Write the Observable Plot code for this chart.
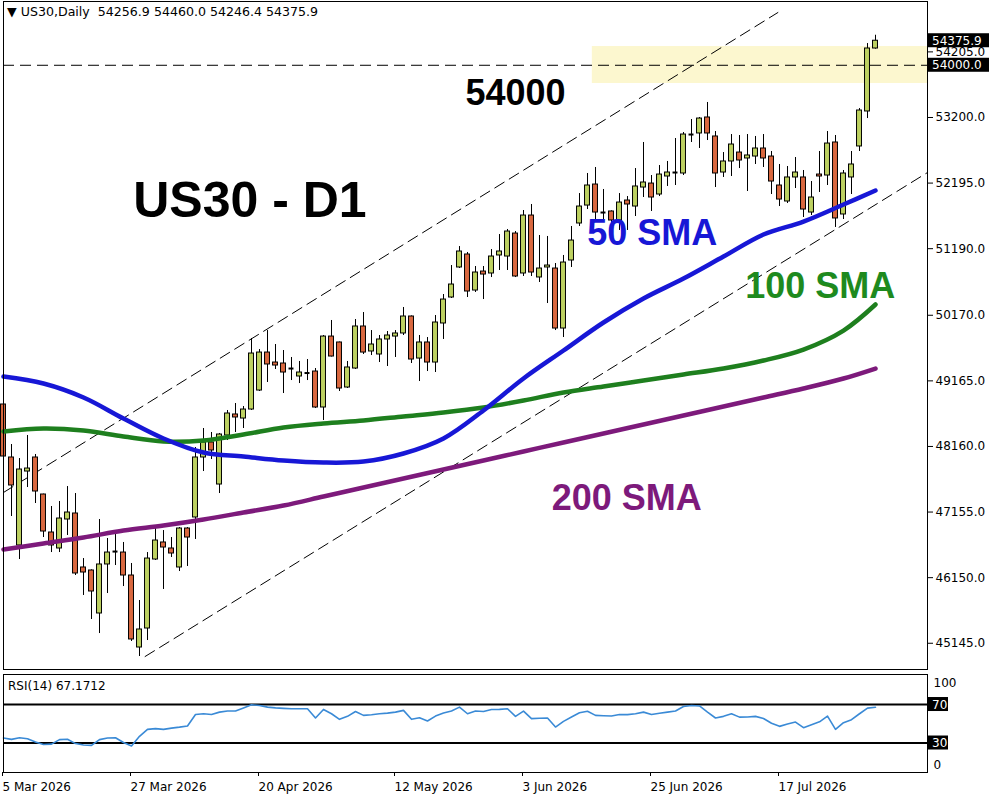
<!DOCTYPE html>
<html><head><meta charset="utf-8">
<script src="https://cdn.jsdelivr.net/npm/d3@7"></script>
<script src="https://cdn.jsdelivr.net/npm/@observablehq/plot@0.6"></script>
<style>
body{margin:0;background:#fff;}
#wrap{position:relative;width:1000px;height:800px;overflow:hidden;background:#fff;font-family:"DejaVu Sans",sans-serif;}
#main{position:absolute;left:0;top:0;}
#rsi{position:absolute;left:0;top:672px;}
.lbl{position:absolute;font-family:"DejaVu Sans",sans-serif;font-size:12px;color:#000;white-space:pre;}
</style></head><body>
<div id="wrap">
<div id="main"></div>
<div id="rsi"></div>
<div class="lbl" id="hdr" style="left:7px;top:4px;font-size:12.6px;"></div>
<div class="lbl" id="rsiLbl" style="left:8px;top:679px;"></div>
</div>
<script>
// ---- data ----
const symbol = "US30,Daily";
const lastOHLC = ["54256.9", "54460.0", "54246.4", "54375.9"];
const opens = [48803,47991,46643,47776,47991,47424,46842,46597,47041,47133,46306,46260,45601,46352,46550,46535,46183,45080,45371,46428,46689,46597,46306,46903,47072,47991,48221,47577,48328,48650,48588,48726,49017,49599,49446,49431,49354,49232,49285,49308,48757,49844,49753,49063,49354,49998,49615,49569,49799,49844,49891,50151,49507,49753,49446,50044,50442,50902,51101,50549,50840,50810,51086,51070,51422,50810,51698,50749,50902,50886,49967,51009,51576,51851,52173,51744,51760,51622,51928,51836,52127,52188,52020,52296,52357,52342,52939,52955,53200,52909,52357,52526,52663,52572,52602,52725,52602,52158,51913,52281,52281,51744,52326,52311,52817,51714,52281,52756,53292,54256.9];
const highs = [48910,48190,47975,48328,48037,47430,47240,47317,47546,47439,46443,46270,47041,46750,46811,46689,46367,45800,46535,46918,46872,46765,46918,46918,48144,48435,48374,48359,48711,48818,48772,49814,49645,49936,49722,49630,49523,49462,49492,49354,49860,50090,49760,49462,50105,50212,49936,49860,49921,49936,50289,50160,49860,49829,50166,50488,50932,51223,51132,50917,50917,51177,51407,51484,51453,51775,51867,51392,51377,50963,51086,51530,52035,52342,52434,52097,51770,52035,51989,52418,52817,52311,52464,52526,52878,52970,53169,53200,53430,52985,52663,52939,52924,52939,52909,52939,52679,52480,52449,52587,52388,52219,52679,52985,52924,52388,52679,53337,54333,54460.0];
const lows = [47684,47087,46428,47531,47286,46765,46535,46535,46796,46183,45877,45509,45294,45907,46336,46014,45172,44942,45187,46413,45969,46459,46244,46321,46735,47776,47960,47439,48251,48374,48435,48711,49002,49140,49339,48971,49170,49124,49170,48741,48558,49530,49002,49048,49339,49569,49553,49446,49385,49523,49860,49431,49155,49308,49293,49799,50427,50886,50442,50519,50411,50748,50856,50856,50748,50764,50764,50672,50350,49936,49829,50902,51530,51790,51622,51622,51515,51469,51469,51683,51974,51760,51989,52143,52158,52311,52817,52725,52847,52127,52281,52296,52418,52066,52480,52434,52020,51836,51882,52112,51668,51698,52051,52158,51515,51637,52020,52679,53184,54246.4];
const closes = [48006,47562,47807,47822,47470,46857,46643,47056,47148,46214,46229,45938,46352,46535,46545,46183,45203,45356,46443,46719,46612,46520,46903,46765,47991,48221,48098,48343,48665,48604,48726,49584,49599,49416,49400,49293,49350,49293,49280,48757,49844,49538,49048,49370,49998,49599,49722,49799,49860,49891,50151,49492,49753,49446,50059,50411,50641,51147,50534,50825,50794,51070,51147,51453,50764,51698,50825,50886,50932,49967,50978,51315,51836,52158,51744,51740,51622,51897,51867,52143,52204,51974,52326,52357,52355,52939,52937,53184,52955,52342,52526,52786,52541,52618,52725,52572,52219,51943,52281,52357,51790,51974,52296,52801,51653,52342,52480,53307,54257,54375.9];
// moving averages, read at every 5th bar
const smaIdx = [0,5,10,15,20,25,30,35,40,45,50,55,60,65,70,75,80,85,90,95,100,105,109];
const sma50  = [49232,49124,48910,48588,48282,48067,48006,47945,47914,47929,48052,48282,48711,49201,49630,50059,50427,50733,51070,51407,51606,51867,52081];
const sma100 = [48389,48435,48404,48312,48236,48251,48343,48450,48512,48558,48619,48680,48757,48864,48987,49078,49170,49262,49354,49477,49645,49936,50335];
const sma200 = [46581,46673,46765,46872,46949,47041,47148,47255,47393,47531,47669,47807,47945,48083,48221,48358,48496,48634,48772,48910,49048,49201,49354];
const rsi14 = [35.2,33.8,35.5,34.5,31.0,28.5,28.8,33.5,33.9,29.4,28.0,27.5,33.5,35.2,35.5,30.5,27.0,37.0,44.2,44.9,44.2,45.5,46.5,47.7,59.7,60.4,59.7,62.1,63.2,63.2,66.5,69.7,69.0,67.3,66.5,66.0,65.6,65.6,65.6,56.0,64.9,60.4,54.6,57.7,62.8,58.7,59.4,60.4,61.1,62.1,63.9,54.6,56.3,52.9,58.0,61.1,63.2,67.3,60.4,63.2,62.8,64.9,65.0,65.6,57.7,63.2,55.3,55.8,56.0,46.6,52.5,57.0,61.4,63.0,58.7,58.3,58.0,59.7,59.5,60.4,62.1,59.7,61.0,62.1,63.2,68.0,69.0,68.5,62.1,56.0,57.7,60.4,56.9,57.0,57.7,55.5,50.5,47.3,49.8,51.8,45.9,49.0,52.0,58.0,44.2,51.1,54.2,60.4,66.3,67.17];
const rsiLast = "67.1712";
const dateIdx = [0,16,32,49,65,81,97];
const dateLabels = ["5 Mar 2026","27 Mar 2026","20 Apr 2026","12 May 2026","3 Jun 2026","25 Jun 2026","17 Jul 2026"];
const priceTicks = [45145,46150,47155,48160,49165,50170,51190,52195,53200,54205];
const markedPrices = [54375.9, 54000.0];
const levelPrice = 54000;
const zoneLow = 53721, zoneHigh = 54287, zoneStartIdx = 73.6;
const upperChannel = [{i:0,p:47455},{i:96.8,p:54808}];
const lowerChannel = [{i:17.7,p:44942},{i:115.5,p:52357}];
const rsiLevels = [70, 30];

// ---- build ----
const candles = opens.map((o,i)=>({i,o,h:highs[i],l:lows[i],c:closes[i]}));
const bodies = candles.filter(d=>Math.abs(d.o-d.c)>=20);
const dojis = candles.filter(d=>Math.abs(d.o-d.c)<20);
const mk = (arr)=>arr.map((p,k)=>({i:smaIdx[k],p}));
const XD = [0,115.5];
const W = 1000;
const bull = "#bdd161", bear = "#d9683f";

document.getElementById("hdr").textContent = "\u25BC " + symbol + "  " + lastOHLC.join(" ");
document.getElementById("rsiLbl").textContent = "RSI(14) " + rsiLast;

const annFont = '"Liberation Sans", Arial, sans-serif';
const notes = [
  {t:"54000", i:64.0, p:53399, c:"#000", s:36},
  {t:"US30 - D1", i:30.8, p:51683, c:"#000", s:50},
  {t:"50 SMA", i:81.1, p:51254, c:"#1717d6", s:36},
  {t:"100 SMA", i:102.1, p:50442, c:"#1e8a1e", s:36},
  {t:"200 SMA", i:77.9, p:47194, c:"#7d1a7b", s:36}
];

const main = Plot.plot({
  width: W, height: 672,
  marginLeft: 3, marginRight: 73, marginTop: 1, marginBottom: 3,
  style: {fontFamily: '"DejaVu Sans", sans-serif', fontSize: "12px", background: "#fff", color: "#000"},
  x: {type: "linear", domain: XD, axis: null},
  y: {domain: [44743, 54977], axis: null},
  marks: [
    Plot.rect([{x1: zoneStartIdx, x2: XD[1], y1: zoneLow, y2: zoneHigh}], {x1:"x1", x2:"x2", y1:"y1", y2:"y2", fill: "#fcf7cf"}),
    Plot.ruleY([levelPrice], {stroke: "#000", strokeWidth: 1, strokeDasharray: "11,6"}),
    Plot.line(upperChannel, {x: "i", y: "p", stroke: "#000", strokeWidth: 1, strokeDasharray: "11,6", clip: true}),
    Plot.line(lowerChannel, {x: "i", y: "p", stroke: "#000", strokeWidth: 1, strokeDasharray: "11,6", clip: true}),
    Plot.ruleX(candles, {x: "i", y1: "l", y2: "h", stroke: "#000", strokeWidth: 1}),
    Plot.rect(bodies, {x1: d=>d.i-0.31, x2: d=>d.i+0.31, y1: "o", y2: "c", fill: d=>d.c>=d.o?bull:bear, stroke: "#000", strokeWidth: 1}),
    Plot.ruleY(dojis, {y: "o", x1: d=>d.i-0.31, x2: d=>d.i+0.31, stroke: "#000", strokeWidth: 2}),
    Plot.line(mk(sma200), {x: "i", y: "p", stroke: "#7d1a7b", strokeWidth: 4.5, curve: "catmull-rom"}),
    Plot.line(mk(sma100), {x: "i", y: "p", stroke: "#1e7f1e", strokeWidth: 4.5, curve: "catmull-rom"}),
    Plot.line(mk(sma50), {x: "i", y: "p", stroke: "#1717d6", strokeWidth: 4.5, curve: "catmull-rom"}),
    Plot.text(notes, {x: "i", y: "p", text: "t", fill: "c", fontSize: "s", fontWeight: "bold", fontFamily: annFont, textAnchor: "middle", lineAnchor: "bottom"}),
    Plot.axisY({anchor: "right", ticks: priceTicks, tickFormat: d=>d.toFixed(1), tickSize: 5, tickPadding: 3, fontSize: 12, label: null}),
    Plot.frame({stroke: "#000"})
  ]
});
document.getElementById("main").appendChild(main);
{
  const y = main.scale("y");
  const svg = d3.select(main);
  markedPrices.forEach(v=>{
    const yy = y.apply(v);
    svg.append("rect").attr("x", 928).attr("y", yy-7).attr("width", 61).attr("height", 14).attr("fill", "#000");
    svg.append("text").attr("x", 932).attr("y", yy+4.5).attr("fill", "#fff").attr("text-anchor", "start").attr("font-size", 12).attr("font-family", '"DejaVu Sans", sans-serif').text(v.toFixed(1));
  });
}

const rsiData = rsi14.map((v,i)=>({i,v}));
const rsiPlot = Plot.plot({
  width: W, height: 128,
  marginLeft: 3, marginRight: 73, marginTop: 2, marginBottom: 28,
  style: {fontFamily: '"DejaVu Sans", sans-serif', fontSize: "12px", background: "transparent", color: "#000"},
  x: {type: "linear", domain: XD, axis: null},
  y: {domain: [-0.65, 101.2], axis: null},
  marks: [
    Plot.ruleY(rsiLevels, {stroke: "#000", strokeWidth: 2}),
    Plot.line(rsiData, {x: "i", y: "v", stroke: "#3a8ad6", strokeWidth: 1.6}),
    Plot.axisX({anchor: "bottom", ticks: dateIdx, tickFormat: d=>dateLabels[dateIdx.indexOf(d)], textAnchor: "start", tickSize: 4, tickPadding: 6, fontSize: 12, dx: -1, label: null}),
    Plot.axisY({anchor: "right", ticks: [100], tickSize: 0, tickPadding: 6, fontSize: 12, dy: 8, label: null}),
    Plot.axisY({anchor: "right", ticks: [0], tickSize: 0, tickPadding: 6, fontSize: 12, dy: -7, label: null}),
    Plot.frame({stroke: "#000"})
  ]
});
document.getElementById("rsi").appendChild(rsiPlot);
{
  const y = rsiPlot.scale("y");
  const svg = d3.select(rsiPlot);
  rsiLevels.forEach(v=>{
    const yy = y.apply(v);
    svg.append("rect").attr("x", 928).attr("y", yy-7).attr("width", 20).attr("height", 14).attr("fill", "#000");
    svg.append("text").attr("x", 932).attr("y", yy+4.5).attr("fill", "#fff").attr("text-anchor", "start").attr("font-size", 12).attr("font-family", '"DejaVu Sans", sans-serif').text(String(v));
  });
}
</script>
</body></html>
